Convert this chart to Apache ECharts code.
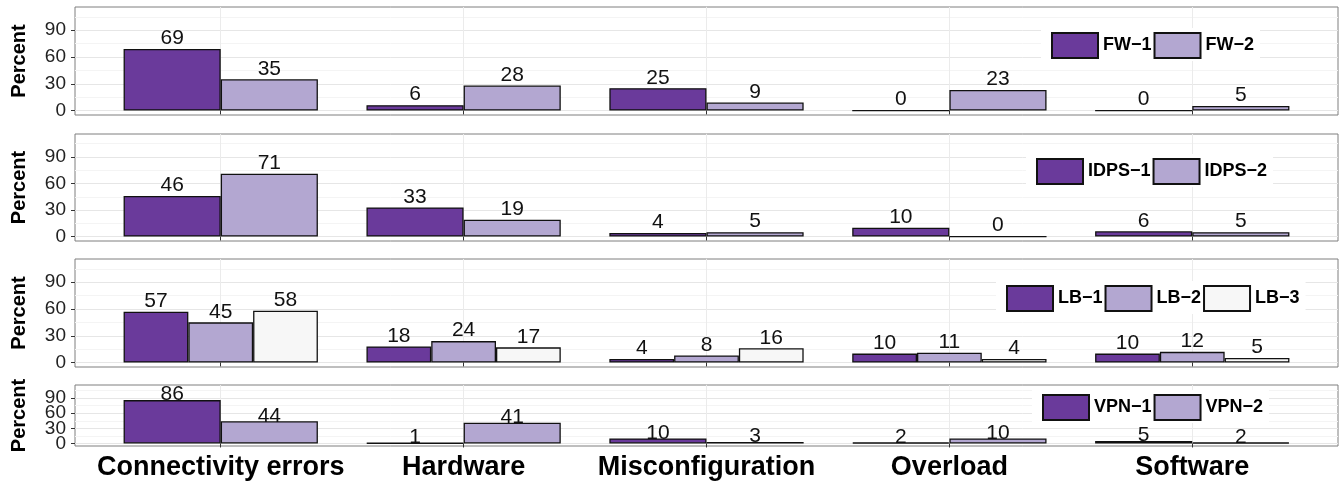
<!DOCTYPE html>
<html>
<head>
<meta charset="utf-8">
<script src="https://cdn.jsdelivr.net/npm/echarts@6/dist/echarts.min.js"></script>
<style>
  html, body { margin: 0; padding: 0; background: #ffffff; }
  #chart { width: 1344px; height: 484px; }
</style>
</head>
<body>
<div id="chart"></div>
<script>
// Failure categories shared by all device panels
const categories = ['Connectivity errors', 'Hardware', 'Misconfiguration', 'Overload', 'Software'];

// Percent of failures per category, one array per device
const fw1 = [69, 6, 25, 0, 0];
const fw2 = [35, 28, 9, 23, 5];
const idps1 = [46, 33, 4, 10, 6];
const idps2 = [71, 19, 5, 0, 5];
const lb1 = [57, 18, 4, 10, 10];
const lb2 = [45, 24, 8, 11, 12];
const lb3 = [58, 17, 16, 4, 5];
const vpn1 = [86, 1, 10, 2, 5];
const vpn2 = [44, 41, 3, 10, 2];

// Axis tick values
const yTicks = [0, 30, 60, 90];
const yMinorTicks = [15, 45, 75, 105];
const xPositions = [1, 2, 3, 4, 5];

const palette = ['#6A3A9B', '#B3A7D1', '#F7F7F7'];
const FONT = '"Liberation Sans", Arial, Helvetica, sans-serif';

// Panel layout (pixels)
const PLOT_LEFT = 75;
const PLOT_WIDTH = 1263;
const panels = [
  { series: [['FW−1', fw1], ['FW−2', fw2]], top: 7, height: 108, legendLeft: 1051, legendTop: 32, labelDist: 0 },
  { series: [['IDPS−1', idps1], ['IDPS−2', idps2]], top: 134, height: 107, legendLeft: 1036, legendTop: 158, labelDist: 0 },
  { series: [['LB−1', lb1], ['LB−2', lb2], ['LB−3', lb3]], top: 259, height: 108, legendLeft: 1006, legendTop: 285, labelDist: 0 },
  { series: [['VPN−1', vpn1], ['VPN−2', vpn2]], top: 385, height: 61, legendLeft: 1042, legendTop: 394, labelDist: -5 }
];

const Y_MIN = -5, Y_MAX = 116;
const X_MIN = 0.4, X_MAX = 5.6;
const LEG_PAD = [4, 6, 2, 10];

const grid = [], xAxis = [], yAxis = [], series = [], legend = [];

panels.forEach((p, gi) => {
  const last = gi === panels.length - 1;
  grid.push({
    left: PLOT_LEFT, width: PLOT_WIDTH, top: p.top, height: p.height,
    show: true, backgroundColor: '#ffffff', borderColor: '#7f7f7f', borderWidth: 1,
    containLabel: false
  });
  xAxis.push({
    type: 'value', gridIndex: gi, min: X_MIN, max: X_MAX,
    axisLine: { show: false },
    axisTick: { show: true, length: 4, customValues: xPositions, lineStyle: { color: '#333333', width: 1 } },
    axisLabel: {
      show: last, customValues: xPositions, margin: 8, hideOverlap: false,
      formatter: v => categories[Math.round(v) - 1] || '',
      fontFamily: FONT, fontSize: 27, fontWeight: 'bold', color: '#000000'
    },
    splitLine: { show: true, lineStyle: { color: '#ebebeb', width: 1 } }
  });
  // major y grid and ticks; carries the data
  const mainY = yAxis.length;
  yAxis.push({
    type: 'value', gridIndex: gi, min: Y_MIN, max: Y_MAX,
    name: 'Percent', nameLocation: 'middle', nameRotate: 90, nameGap: 46,
    nameTextStyle: { fontFamily: FONT, fontSize: 20, fontWeight: 'bold', color: '#000000' },
    axisLine: { show: false },
    axisTick: { show: true, length: 4, customValues: yTicks, lineStyle: { color: '#333333', width: 1 } },
    axisLabel: { show: false, customValues: yTicks },
    splitLine: { show: true, lineStyle: { color: '#e6e6e6', width: 1 } }
  });
  // minor y grid
  yAxis.push({
    type: 'value', gridIndex: gi, min: Y_MIN, max: Y_MAX, position: 'left',
    axisLine: { show: false },
    axisTick: { show: false, customValues: yMinorTicks },
    axisLabel: { show: false, customValues: yMinorTicks },
    splitLine: { show: true, lineStyle: { color: '#f4f4f4', width: 1 } }
  });
  // one label per tick value, so tightly packed labels all stay visible
  yTicks.forEach(t => {
    yAxis.push({
      type: 'value', gridIndex: gi, min: Y_MIN, max: Y_MAX, position: 'left',
      axisLine: { show: false },
      axisTick: { show: false, customValues: [t] },
      splitLine: { show: false },
      axisLabel: {
        customValues: [t], margin: 9,
        fontFamily: FONT, fontSize: 19, color: '#222222'
      }
    });
  });

  const n = p.series.length;
  const barW = PLOT_WIDTH / (X_MAX - X_MIN) * 0.8 / n;
  p.series.forEach(([name, vals], si) => {
    series.push({
      name, type: 'bar', xAxisIndex: gi, yAxisIndex: mainY,
      data: vals.map((v, i) => [xPositions[i], v]),
      barWidth: barW, barGap: '0%', clip: false,
      itemStyle: { color: palette[si], borderColor: '#111111', borderWidth: 1.3 },
      label: {
        show: true, position: 'top', distance: p.labelDist,
        formatter: d => d.value[1],
        fontFamily: FONT, fontSize: 21, color: '#111111'
      },
      labelLayout: { hideOverlap: false },
      emphasis: { disabled: true },
      animation: false
    });
  });

  legend.push({
    data: p.series.map(s => s[0]),
    left: p.legendLeft - LEG_PAD[3], top: p.legendTop - LEG_PAD[0],
    orient: 'horizontal', icon: 'rect',
    itemWidth: 46, itemHeight: 25, itemGap: 2,
    padding: LEG_PAD, backgroundColor: '#ffffff',
    selectedMode: false,
    textStyle: { fontFamily: FONT, fontSize: 18, fontWeight: 'bold', color: '#000000' }
  });
});

const chart = echarts.init(document.getElementById('chart'), null, { renderer: 'canvas' });
chart.setOption({
  animation: false,
  backgroundColor: '#ffffff',
  grid, xAxis, yAxis, series, legend
});
</script>
</body>
</html>
